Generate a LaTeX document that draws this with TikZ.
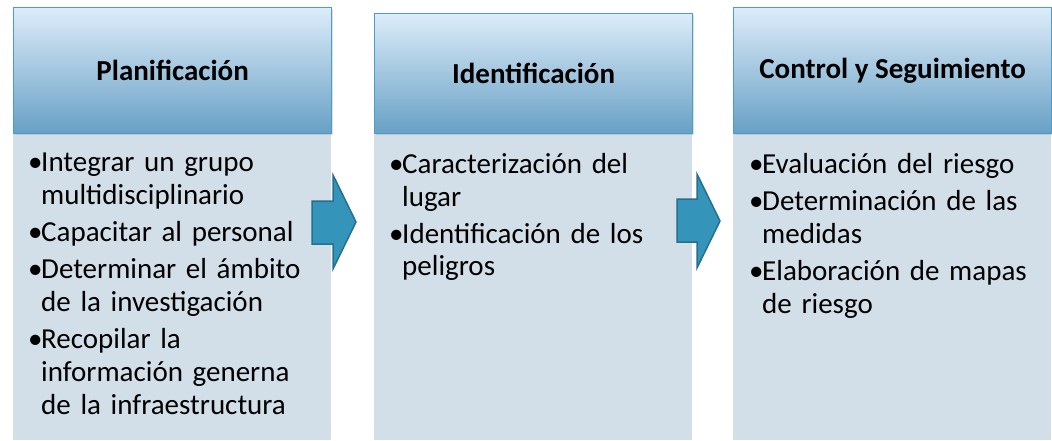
\documentclass[tikz,border=0pt]{standalone}
\usepackage{fontspec}
\setmainfont{Carlito}
\usepackage{xcolor}
\usepackage{tikz}
\usetikzlibrary{shadows}

\definecolor{headtop}{RGB}{221,236,249}
\definecolor{headbot}{RGB}{104,160,197}
\definecolor{headline}{RGB}{75,158,198}
\definecolor{panelfill}{RGB}{210,222,232}
\definecolor{arrfill}{RGB}{52,148,186}
\definecolor{arrline}{RGB}{36,112,142}

\newcommand{\bul}[1]{\noindent\hangindent=13pt\hangafter=1\makebox[13pt][l]{•}#1\par}

\tikzset{
  head/.style={draw=headline, line width=1.2pt, top color=headtop, bottom color=headbot,
    minimum width=318pt, minimum height=126pt, anchor=north west, inner sep=0pt,
    font=\fontsize{29}{33}\selectfont\bfseries,
    drop shadow={opacity=0.25, shadow xshift=1pt, shadow yshift=-1pt}},
  panel/.style={fill=panelfill, minimum width=318pt, minimum height=307pt, anchor=north west, inner sep=0pt},
  itemtext/.style={anchor=north west, inner sep=0pt, text width=300pt, align=left,
    font=\fontsize{29}{32.7}\selectfont\setlength{\parskip}{4.5pt}},
  blockarrow/.style={fill=arrfill, draw=arrline, line width=1.5pt, line join=miter}
}

\begin{document}
\begin{tikzpicture}[x=1pt, y=-1pt]

\useasboundingbox (0,0) rectangle (1052,440);

\node[panel] (planpanel) at (13,133) {};
\node[panel] (identpanel) at (374,133) {};
\node[panel] (ctrlpanel) at (733,133) {};

\draw[blockarrow] (312,201) -- (333,201) -- (333,175) -- (356,222) -- (333,269) -- (333,244) -- (312,244) -- cycle;
\draw[blockarrow] (677,199) -- (697,199) -- (697,174) -- (720,221) -- (697,268) -- (697,242) -- (677,242) -- cycle;

\node[head] (plan) at (13,7) {Planificación};
\node[head, minimum height=120pt] (ident) at (374,13) {Identificación};
\node[head] (ctrl) at (733,7) {Control y Seguimiento};

\node[itemtext] (plantxt) at (28,153) {\bul{Integrar un grupo\newline multidisciplinario}
  \bul{Capacitar al personal}
  \bul{Determinar el ámbito\newline de la investigación}
  \bul{Recopilar la\newline información generna\newline de la infraestructura}};
\node[itemtext] (identtxt) at (389,153) {\bul{Caracterización del\newline lugar}
  \bul{Identificación de los\newline peligros}};
\node[itemtext] (ctrltxt) at (749,153) {\bul{Evaluación del riesgo}
  \bul{Determinación de las\newline medidas}
  \bul{Elaboración de mapas\newline de riesgo}};

\end{tikzpicture}
\end{document}
